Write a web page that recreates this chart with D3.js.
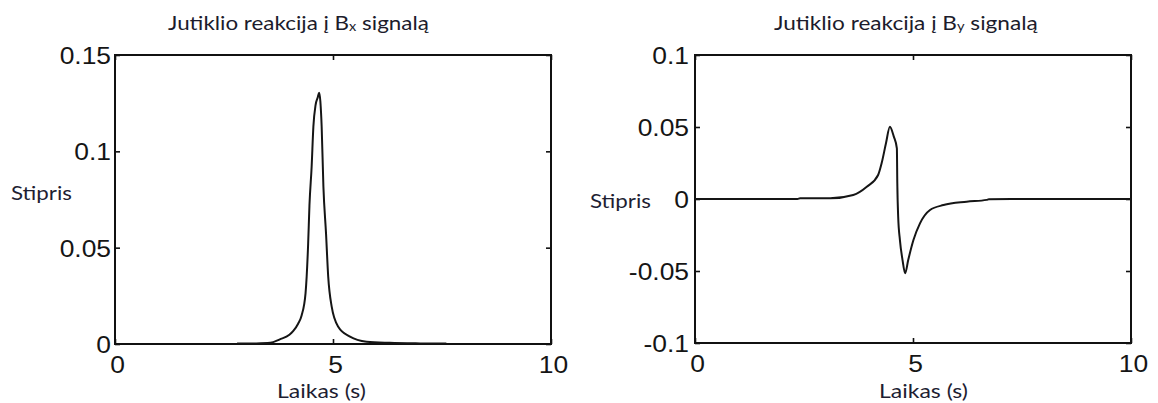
<!DOCTYPE html>
<html>
<head>
<meta charset="utf-8">
<script src="https://cdn.jsdelivr.net/npm/d3@7"></script>
<style>
  html, body { margin: 0; padding: 0; background: #fff; }
  svg { display: block; }
</style>
</head>
<body>
<svg id="chart" width="1158" height="403"></svg>
<script>
// Sensor response to the Bx signal (time in s, strength)
const bxTime = [2.8, 3.2, 3.56, 3.78, 4.0, 4.09, 4.2, 4.28, 4.37, 4.43, 4.46, 4.51, 4.55, 4.6, 4.65, 4.68,
                4.71, 4.74, 4.78, 4.84, 4.89, 4.97, 5.12, 5.39, 5.77, 6.3, 7.0, 7.6];
const bxValue = [0.0002, 0.0003, 0.0006, 0.0024, 0.0048, 0.0068, 0.0105, 0.0148, 0.0263, 0.052, 0.072, 0.092, 0.1128, 0.124, 0.128, 0.1304,
                 0.126, 0.1128, 0.0816, 0.0574, 0.035, 0.0194, 0.009, 0.0038, 0.0012, 0.0006, 0.0003, 0.0002];

// Sensor response to the By signal
const byTime = [0, 1.2, 2.35, 2.41, 3.1, 3.63, 3.94, 4.2, 4.28, 4.38, 4.47, 4.56, 4.63, 4.64, 4.66, 4.7,
                4.76, 4.82, 4.89, 5.01, 5.16, 5.39, 5.7, 6.23, 6.69, 6.74, 7.45, 8.5, 10];
const byValue = [0, 0, 0, 0.0005, 0.0005, 0.0028, 0.0085, 0.0167, 0.0248, 0.0387, 0.0502, 0.0433, 0.0352, 0.0109, -0.0123, -0.0285,
                 -0.0424, -0.0516, -0.0424, -0.0285, -0.0169, -0.0076, -0.0042, -0.0019, -0.0006, -0.0002, 0, 0, 0];

// Axis ticks
const xTicks = [0, 5, 10];
const xTickLabels = ["0", "5", "10"];
const bxYTicks = [0, 0.05, 0.1, 0.15];
const bxYTickLabels = ["0", "0.05", "0.1", "0.15"];
const byYTicks = [-0.1, -0.05, 0, 0.05, 0.1];
const byYTickLabels = ["-0.1", "-0.05", "0", "0.05", "0.1"];

// Texts
const titlePrefix = "Jutiklio reakcija į B";
const titleSuffix = " signalą";
const bxSub = "x";
const bySub = "y";
const xAxisTitle = "Laikas (s)";
const yAxisTitle = "Stipris";

const svg = d3.select("#chart");
const labelFont = "Lato, 'Open Sans', sans-serif";

// Stretch a text element horizontally so that it spans the given width
function fitWidth(sel, x0, width) {
  const w = sel.node().getComputedTextLength();
  const k = width / w;
  sel.attr("transform", `translate(${x0},0) scale(${k},1) translate(${-x0},0)`);
}

function drawPanel(cfg) {
  const g = svg.append("g");
  const x = d3.scaleLinear().domain([0, 10]).range([cfg.left, cfg.left + cfg.width]);
  const y = d3.scaleLinear().domain(cfg.yDomain).range([cfg.top + cfg.height, cfg.top]);

  const tickFont = "'Liberation Sans', Arial, sans-serif";
  const tickLen = 5;

  // Bottom and top axes with inward ticks
  const bottom = g.append("g").attr("transform", `translate(0,${cfg.top + cfg.height})`)
    .call(d3.axisBottom(x).tickValues(xTicks).tickSizeInner(-tickLen).tickSizeOuter(0).tickFormat((d, i) => xTickLabels[i]));
  const top = g.append("g").attr("transform", `translate(0,${cfg.top})`)
    .call(d3.axisTop(x).tickValues(xTicks).tickSizeInner(-tickLen).tickSizeOuter(0).tickFormat(""));
  const left = g.append("g").attr("transform", `translate(${cfg.left},0)`)
    .call(d3.axisLeft(y).tickValues(cfg.yTicks).tickSizeInner(-tickLen).tickSizeOuter(0).tickFormat((d, i) => cfg.yTickLabels[i]));
  const right = g.append("g").attr("transform", `translate(${cfg.left + cfg.width},0)`)
    .call(d3.axisRight(y).tickValues(cfg.yTicks).tickSizeInner(-tickLen).tickSizeOuter(0).tickFormat(""));

  [bottom, top, left, right].forEach(a => {
    a.select(".domain").remove();
    a.selectAll(".tick line").attr("stroke", "#111").attr("stroke-width", 1.6);
  });

  bottom.selectAll(".tick text")
    .attr("font-family", tickFont).attr("font-size", 24).attr("fill", "#151515")
    .attr("dy", null).attr("y", 29).attr("x", 0)
    .attr("text-anchor", "middle")
    .attr("transform", "translate(2,0) scale(1.1,1)");

  left.selectAll(".tick text")
    .attr("font-family", tickFont).attr("font-size", 24).attr("fill", "#151515")
    .attr("dy", null).attr("y", 8.5).attr("x", 0)
    .attr("text-anchor", "end")
    .attr("transform", `translate(${cfg.labelGap},0) scale(1.1,1)`);

  // Plot frame
  g.append("rect")
    .attr("x", cfg.left).attr("y", cfg.top)
    .attr("width", cfg.width).attr("height", cfg.height)
    .attr("fill", "none").attr("stroke", "#111").attr("stroke-width", 2);

  // Response curve
  const line = d3.line()
    .x((d, i) => x(cfg.xs[i]))
    .y((d, i) => y(cfg.ys[i]))
    .curve(d3.curveMonotoneX);
  g.append("path")
    .datum(cfg.ys)
    .attr("d", line)
    .attr("fill", "none")
    .attr("stroke", "#151515")
    .attr("stroke-width", 2)
    .attr("stroke-linejoin", "round");

  // Title with subscript
  const title = g.append("text")
    .attr("x", cfg.titleX).attr("y", 30)
    .attr("font-family", labelFont)
    .attr("font-size", 20).attr("fill", "#1c1c2c");
  title.append("tspan").text(titlePrefix);
  title.append("tspan").attr("font-size", 13).attr("dy", 1).text(cfg.sub);
  title.append("tspan").attr("dy", -1).text(titleSuffix);
  fitWidth(title, cfg.titleX, cfg.titleW);

  // Axis titles
  const xt = g.append("text")
    .attr("x", cfg.xTitleX).attr("y", 398)
    .attr("font-family", labelFont)
    .attr("font-size", 19).attr("fill", "#1e1e32")
    .text(xAxisTitle);
  fitWidth(xt, cfg.xTitleX, 89);

  const yt = g.append("text")
    .attr("x", cfg.yTitleX).attr("y", cfg.yTitleY)
    .attr("font-family", labelFont)
    .attr("font-size", 19).attr("fill", "#1e1e32")
    .text(yAxisTitle);
  fitWidth(yt, cfg.yTitleX, 61);
}

drawPanel({
  left: 115, top: 55, width: 436, height: 289,
  yDomain: [0, 0.15], yTicks: bxYTicks, yTickLabels: bxYTickLabels,
  xs: bxTime, ys: bxValue, sub: bxSub,
  titleX: 168, titleW: 261,
  xTitleX: 277, yTitleX: 11, yTitleY: 200,
  labelGap: -4
});

drawPanel({
  left: 695, top: 55, width: 436, height: 288,
  yDomain: [-0.1, 0.1], yTicks: byYTicks, yTickLabels: byYTickLabels,
  xs: byTime, ys: byValue, sub: bySub,
  titleX: 774, titleW: 264,
  xTitleX: 879, yTitleX: 590, yTitleY: 208,
  labelGap: -6
});
</script>
</body>
</html>
